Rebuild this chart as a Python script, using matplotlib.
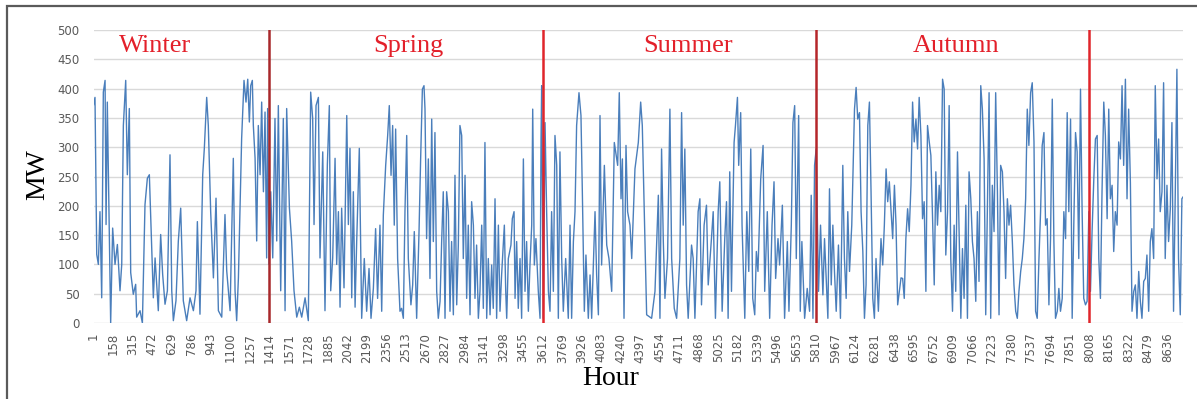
import numpy as np
import matplotlib.pyplot as plt
from matplotlib.patches import Rectangle

hours = [
    1, 13, 27, 40, 53, 67, 80, 94, 102, 112, 128, 139, 155, 174, 193, 214, 228, 241, 260, 273,
    289, 300, 321, 340, 348, 375, 394, 415, 434, 450, 463, 482, 496, 522, 541, 557, 576, 595, 616, 630,
    643, 664, 683, 702, 723, 750, 777, 804, 825, 836, 857, 879, 892, 911, 924, 943, 965, 986, 1005, 1032,
    1058, 1072, 1099, 1125, 1139, 1152, 1166, 1179, 1192, 1211, 1227, 1241, 1254, 1265, 1278, 1286, 1300, 1313, 1326, 1340,
    1353, 1367, 1380, 1393, 1401, 1412, 1426, 1442, 1460, 1474, 1487, 1506, 1527, 1541, 1554, 1576, 1594, 1613, 1635, 1656,
    1675, 1702, 1728, 1747, 1763, 1774, 1790, 1809, 1822, 1844, 1862, 1881, 1897, 1908, 1924, 1943, 1956, 1970, 1983, 1996,
    2015, 2037, 2050, 2063, 2077, 2090, 2104, 2117, 2138,
    2157, 2178, 2197, 2216, 2232, 2251, 2269, 2285, 2304, 2318, 2331, 2350, 2366, 2379, 2393, 2406, 2419, 2430, 2446, 2465,
    2478, 2492, 2505, 2519, 2532, 2553, 2567, 2580, 2599, 2618, 2631, 2645, 2658, 2666, 2679, 2693, 2706, 2720, 2733, 2746,
    2760, 2773, 2787, 2800, 2813, 2827, 2840, 2854, 2867, 2880, 2894, 2907, 2921, 2934, 2947, 2961, 2974, 2988, 3001, 3014,
    3028, 3041, 3055, 3068, 3081, 3095, 3108, 3122, 3135, 3148, 3162, 3175, 3189, 3202, 3215, 3229, 3242, 3256, 3269, 3282,
    3304, 3315, 3323, 3336, 3357, 3368, 3382, 3390, 3403, 3416, 3430, 3443, 3457, 3470, 3483, 3497, 3510, 3524, 3532, 3545,
    3558, 3577, 3591, 3599, 3604, 3617, 3631, 3644, 3658, 3671, 3684, 3698, 3711, 3725, 3738, 3751, 3765, 3778, 3797, 3818,
    3832, 3845, 3859, 3872, 3885, 3904, 3920, 3931, 3947, 3960, 3979, 3993, 4006, 4033, 4046, 4060, 4073, 4086, 4108, 4127,
    4145, 4167, 4188, 4199, 4215, 4228, 4242, 4253, 4266, 4282, 4295,
    4314, 4328, 4354, 4381, 4400, 4413, 4448, 4488, 4515, 4542, 4555, 4568, 4582, 4595, 4616, 4635, 4649, 4670, 4689, 4715,
    4729, 4742, 4755, 4769, 4782, 4809, 4822, 4836, 4862, 4876, 4889, 4910, 4929, 4943, 4969, 4983, 5001, 5023, 5036, 5055,
    5076, 5090, 5103, 5116, 5130, 5151, 5162, 5178, 5188, 5204, 5215, 5237, 5253, 5269, 5285, 5301, 5317, 5330, 5343, 5365,
    5384, 5397, 5418, 5437, 5456, 5472, 5485, 5504, 5517, 5539, 5557, 5579, 5592, 5611, 5624, 5638, 5651, 5670, 5683, 5696,
    5718, 5739, 5758, 5771, 5785, 5798, 5811, 5830, 5846, 5865, 5878, 5905, 5918, 5932, 5945, 5958, 5972, 5990, 6006, 6025,
    6038, 6052, 6065, 6079, 6097, 6119, 6132, 6145, 6159, 6172, 6186, 6199, 6212, 6226, 6239, 6252, 6266, 6279, 6292, 6311,
    6332, 6346, 6359, 6373, 6386, 6399, 6413, 6426, 6440, 6453, 6466, 6493,
    6506, 6519, 6532, 6546, 6559, 6573, 6586, 6599, 6613, 6626, 6639, 6653, 6666, 6679, 6693, 6706, 6720, 6733, 6746, 6760,
    6773, 6786, 6800, 6813, 6827, 6840, 6853, 6867, 6880, 6893, 6907, 6920, 6933, 6947, 6960, 6974, 6987, 7000, 7014, 7027,
    7040, 7054, 7067, 7080, 7094, 7107, 7120, 7134, 7147, 7161, 7174, 7187, 7201, 7214, 7227, 7241, 7254, 7268, 7281, 7294,
    7308, 7321, 7334, 7348, 7361, 7374, 7388, 7401, 7415, 7428, 7441, 7455, 7468, 7481, 7495, 7508, 7521, 7535, 7548, 7562,
    7575, 7588, 7602, 7615, 7628, 7642, 7655, 7668, 7682, 7695, 7709, 7722, 7735, 7749, 7762, 7775, 7789, 7802, 7816, 7829,
    7842, 7856, 7869, 7882, 7896, 7909, 7922, 7936, 7949, 7962, 7976, 7989, 8003, 8016, 8029, 8043, 8056, 8070, 8083, 8096,
    8109, 8123, 8136, 8150, 8163, 8176, 8190, 8203, 8216, 8230, 8243, 8257, 8270, 8283, 8297, 8310, 8323, 8337, 8350, 8364,
    8377, 8390, 8404, 8417, 8430, 8444, 8457, 8470, 8484, 8497, 8510, 8524, 8537, 8551, 8564, 8577, 8591, 8604, 8617, 8631,
    8644, 8658, 8671, 8684, 8698, 8711, 8724, 8738, 8751, 8760,
]
mw = [
    372, 385, 117, 100, 190, 43, 394, 414, 168, 377, 156, 0, 162, 100, 134, 55, 100, 337, 414, 253,
    366, 86, 49, 66, 10, 21, 0, 202, 247, 253, 168, 43, 111, 21, 151, 83, 32, 55, 287, 55,
    4, 38, 140, 196, 38, 4, 43, 21, 55, 173, 15, 253, 298, 385, 337, 190, 77, 213, 21, 10,
    185, 89, 21, 281, 55, 4, 77, 196, 315, 414, 377, 416, 343, 405, 414, 337, 281, 140, 337, 253,
    377, 224, 360, 111, 366, 100, 224, 111, 349, 140, 371, 55, 349, 21, 366, 196, 140, 55, 10, 27,
    10, 43, 4, 394, 349, 168, 371, 385, 111, 292, 21, 270, 371, 55, 111, 281, 100, 190, 27, 196,
    60, 354, 168, 298, 43, 224, 27, 140, 298,
    8, 110, 20, 93, 8, 59, 161, 42, 167, 20, 184, 269, 320, 371, 252, 337, 167, 331, 110, 20,
    25, 8, 190, 320, 110, 31, 65, 156, 8, 156, 280, 399, 405, 365, 144, 280, 76, 348, 139, 325,
    54, 8, 37, 139, 224, 8, 224, 190, 20, 139, 14, 252, 31, 133, 337, 320, 110, 252, 42, 167,
    14, 207, 167, 42, 133, 8, 54, 167, 25, 308, 8, 110, 14, 99, 25, 212, 8, 167, 20, 82,
    167, 54, 8, 110, 133, 178, 190, 42, 139, 25, 110, 8, 280, 54, 139, 20, 99, 167, 365, 99,
    144, 54, 8, 314, 405, 8, 342, 190, 54, 20, 190, 54, 320, 269, 8, 292, 110, 20, 110, 8,
    167, 8, 139, 190, 337, 393, 354, 224, 20, 116, 8, 82, 8, 190, 82, 14, 354, 99, 269, 133,
    110, 54, 308, 292, 269, 393, 212, 280, 8, 303, 190,
    167, 110, 263, 308, 377, 337, 14, 8, 54, 218, 8, 297, 139, 42, 110, 365, 110, 25, 8, 110,
    359, 167, 297, 65, 8, 133, 110, 8, 190, 212, 31, 167, 201, 65, 144, 190, 8, 190, 241, 20,
    144, 207, 8, 258, 54, 308, 337, 385, 269, 359, 167, 8, 190, 88, 297, 42, 14, 122, 88, 246,
    303, 54, 190, 8, 167, 241, 76, 144, 99, 201, 8, 139, 20, 167, 342, 371, 110, 354, 20, 139,
    8, 59, 20, 218, 8, 269, 297, 54, 167, 48, 144, 8, 229, 65, 167, 88, 20, 133, 8, 269,
    110, 42, 190, 88, 167, 365, 402, 348, 359, 190, 122, 8, 65, 337, 377, 224, 42, 8, 110, 20,
    144, 99, 167, 263, 207, 241, 190, 144, 235, 167, 31, 77,
    76, 42, 144, 195, 156, 235, 377, 309, 348, 297, 385, 320, 178, 207, 54, 337, 309, 286, 184, 65,
    258, 167, 235, 190, 416, 399, 116, 190, 371, 110, 20, 167, 54, 292, 156, 8, 127, 42, 201, 8,
    258, 212, 139, 110, 37, 190, 71, 405, 365, 280, 14, 190, 393, 8, 235, 156, 393, 224, 14, 269,
    258, 190, 76, 212, 167, 201, 139, 65, 20, 8, 54, 88, 110, 144, 212, 365, 303, 393, 410, 309,
    20, 8, 110, 190, 303, 325, 167, 178, 31, 144, 382, 139, 8, 20, 59, 20, 42, 190, 144, 359,
    190, 348, 8, 167, 325, 292, 110, 399, 190, 42, 31, 37, 190, 54, 156, 246, 314, 320, 110, 42,
    224, 377, 320, 178, 365, 212, 235, 122, 190, 167, 309, 280, 405, 269, 416, 212, 365, 240, 20, 54,
    65, 8, 88, 37, 8, 71, 76, 116, 20, 139, 161, 110, 405, 246, 314, 190, 224, 410, 110, 235,
    139, 195, 342, 20, 224, 433, 110, 14, 212, 215,
]

seasons = ["Winter", "Spring", "Summer", "Autumn"]
season_mid = [495, 2530, 4780, 6935]
boundaries = [1414, 3612, 5810, 8008]
boundary_colors = ["#a8282b", "#e0252b", "#b5262a", "#e0252b"]

tick_hours = list(range(1, 8761, 157))
y_ticks = list(range(0, 501, 50))

fig = plt.figure(figsize=(11.97, 3.99), dpi=100)
ax = fig.add_axes([93.5 / 1197, 1 - 323 / 399, 1089.5 / 1197, 293 / 399])

# thin frame around the whole figure, bottom edge cut off as in the source
fig.patches.append(Rectangle((7 / 1197, -0.05), 1.2, 1 - 6 / 399 + 0.05,
                             transform=fig.transFigure, fill=False,
                             edgecolor="#5a5a5a", linewidth=1.6))

ax.plot(hours, mw, color="#4a7ebb", linewidth=1.0)

for b, c in zip(boundaries, boundary_colors):
    ax.axvline(b, color=c, linewidth=1.8, zorder=3)

for name, h in zip(seasons, season_mid):
    ax.text(h, 472, name, color="#e3202a", fontsize=19, family="Liberation Serif",
            ha="center", va="center")

ax.set_xlim(1, 8760)
ax.set_ylim(0, 500)
ax.set_yticks(y_ticks)
ax.set_xticks(tick_hours)
ax.set_xticklabels([str(t) for t in tick_hours], rotation=90)
ax.tick_params(axis="both", length=0, labelsize=8.5, labelcolor="#595959")
ax.tick_params(axis="y", pad=10)
ax.tick_params(axis="x", pad=7)
ax.grid(axis="y", color="#d9d9d9", linewidth=1.0)
ax.set_axisbelow(True)
for s in ax.spines.values():
    s.set_visible(False)

ax.set_xlabel("Hour", family="Liberation Serif", fontsize=20, va="center")
ax.xaxis.set_label_coords(0.475, -0.19)
ax.set_ylabel("MW", family="Liberation Serif", fontsize=20, va="center")
ax.yaxis.set_label_coords(-0.051, 0.505)

fig.savefig("out.png", dpi=100)
